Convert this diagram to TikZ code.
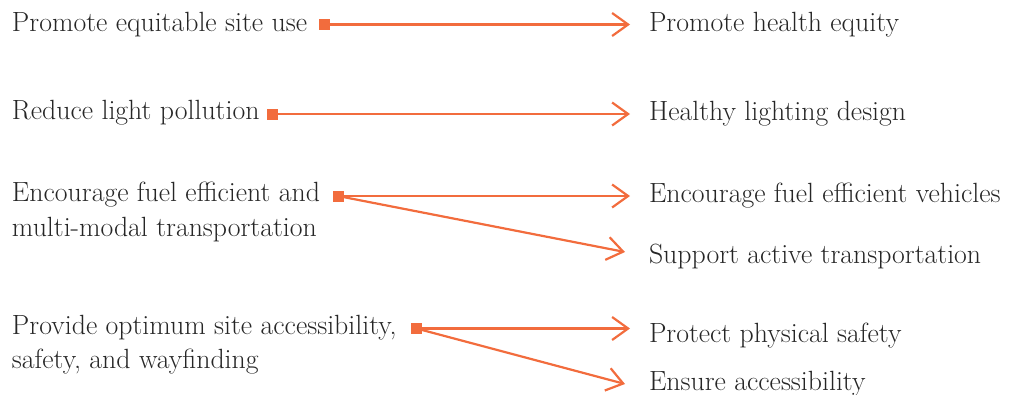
\documentclass[tikz,border=0pt]{standalone}
\usepackage{fontspec}
\usetikzlibrary{arrows.meta}
\definecolor{accent}{HTML}{F26C3D}
\definecolor{ink}{HTML}{262626}
\begin{document}
\begin{tikzpicture}[x=1pt,y=-1pt,
  lbl/.style={anchor=base west,inner sep=0pt,outer sep=0pt,text=ink,
    font=\fontsize{27.8}{34.3}\selectfont},
  sq/.style={fill=accent,draw=none,minimum size=11pt,inner sep=0pt,outer sep=0pt},
  link/.style={draw=accent,line width=2.2pt,
    -{Straight Barb[length=16pt,width=23pt,line width=2.2pt]}}]
\useasboundingbox (0,0) rectangle (1019,394);
% left texts
\node[lbl] (l1) at (12,31) {Promote equitable site use};
\node[lbl] (l2) at (12,119) {Reduce light pollution};
\node[lbl] (l3) at (12,201.7) {\begin{tabular}[t]{@{}l@{}}Encourage fuel efficient and\\multi-modal transportation\end{tabular}};
\node[lbl] (l4) at (12,334) {\begin{tabular}[t]{@{}l@{}}Provide optimum site accessibility,\\safety, and wayfinding\end{tabular}};
% right texts
\node[lbl] (r1) at (649,31) {Promote health equity};
\node[lbl] (r2) at (649,120) {Healthy lighting design};
\node[lbl] (r3a) at (649,202) {Encourage fuel efficient vehicles};
\node[lbl] (r3b) at (649,263) {Support active transportation};
\node[lbl] (r4a) at (649,342) {Protect physical safety};
\node[lbl] (r4b) at (649,390) {Ensure accessibility};
% squares
\node[sq] (s1) at (324,24.5) {};
\node[sq] (s2) at (272.5,114) {};
\node[sq] (s3) at (338,196) {};
\node[sq] (s4) at (416.5,328.5) {};
% arrow tips
\coordinate (t1) at (630,24.5);
\coordinate (t2) at (630,114);
\coordinate (t3a) at (630,196);
\coordinate (t3b) at (625,252);
\coordinate (t4a) at (630,328.5);
\coordinate (t4b) at (625,384);
% connectors
\draw[link] (s1.east) -- (t1);
\draw[link] (s2.east) -- (t2);
\draw[link] (s3.east) -- (t3a);
\draw[link] (s3.center) -- (t3b);
\draw[link] (s4.east) -- (t4a);
\draw[link] (s4.center) -- (t4b);
\end{tikzpicture}
\end{document}
